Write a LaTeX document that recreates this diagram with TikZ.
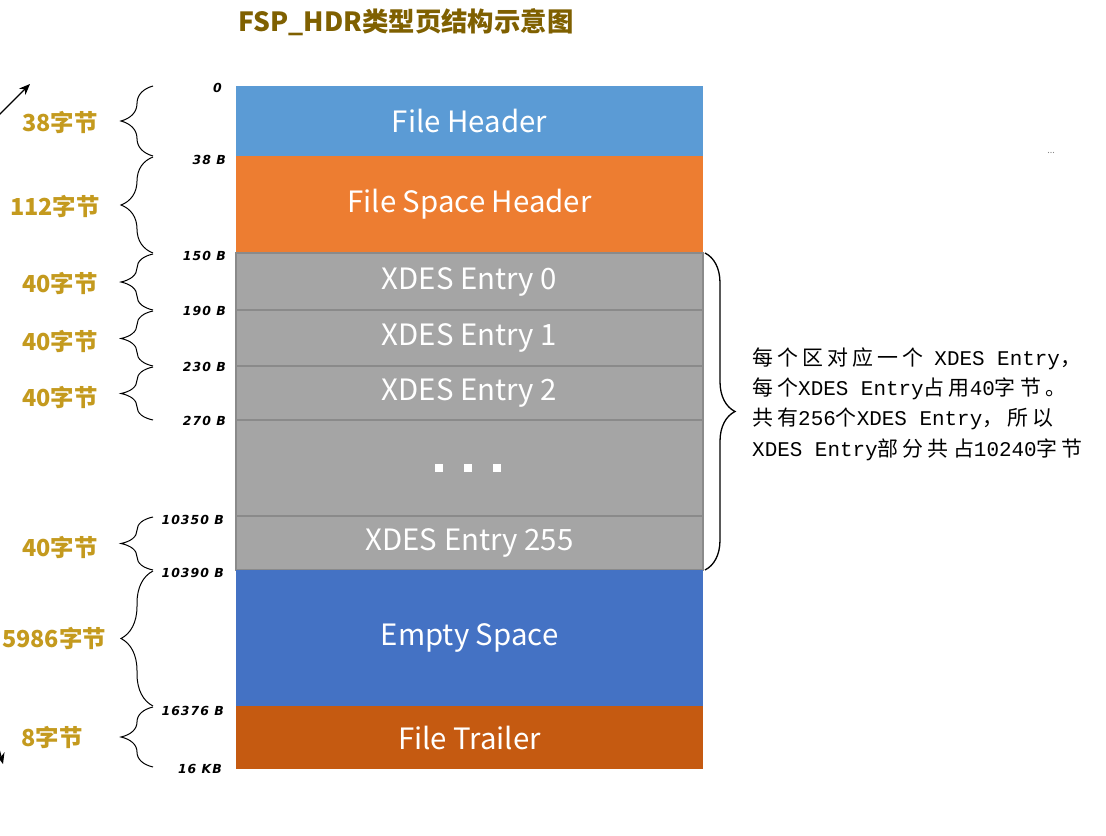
\documentclass[tikz,border=0pt]{standalone}
\usepackage{fontspec}
\setmainfont{Noto Sans CJK SC}
\newfontfamily\cjk{Noto Sans CJK SC}
\newfontfamily\hand[LetterSpace=20]{Noto Sans CJK SC}
\newfontfamily\monof{Liberation Mono}
\newfontfamily\offf[LetterSpace=8]{DejaVu Sans}
\usetikzlibrary{decorations.pathreplacing,arrows.meta}
\definecolor{fhc}{HTML}{5B9BD5}
\definecolor{fshc}{HTML}{ED7D31}
\definecolor{xgc}{HTML}{A5A5A5}
\definecolor{xline}{HTML}{8A8A8A}
\definecolor{esc}{HTML}{4472C4}
\definecolor{ftc}{HTML}{C55A11}
\definecolor{goldc}{HTML}{C49A1E}
\definecolor{tgoldc}{HTML}{7F6000}
\newcommand{\cn}[1]{{\hand #1}}
\newcommand{\mn}[1]{{\monof #1}}
\tikzset{
  seg/.style={minimum width=467bp, inner sep=0pt, text=white,
    font=\fontsize{29.5}{33}\selectfont},
  gseg/.style={seg, fill=xgc, draw=xline, line width=1.2bp},
  offlab/.style={anchor=east, inner sep=0pt, font=\offf\bfseries\itshape\fontsize{12.5}{14}\selectfont},
  bytelab/.style={text=goldc, inner sep=0pt, font=\bfseries\fontsize{23.5}{26}\selectfont},
  lbrace/.style={decorate, decoration={brace, amplitude=32bp, aspect=0.5}, line width=1bp},
  rbrace/.style={decorate, decoration={brace, amplitude=30bp, aspect=0.5}, line width=1.3bp},
  arr/.style={-{Stealth[length=11bp,width=9bp]}, line width=1.2bp},
  wdot/.style={fill=white, draw=none, minimum size=8bp, inner sep=0pt}
}
\begin{document}
\begin{tikzpicture}[x=1bp,y=-1bp]
\useasboundingbox (0,0) rectangle (1106,836);
\clip (0,0) rectangle (1106,836);
\fill[white] (0,0) rectangle (1106,836);
% title
\node[text=tgoldc, font=\bfseries\fontsize{26.5}{30}\selectfont] (title) at (406,22) {FSP\_HDR类型页结构示意图};
% segments
\node[seg, fill=fhc, minimum height=70bp] (fh) at (469.5,121) {File Header};
\node[seg, fill=fshc, minimum height=97bp] (fsh) at (469.5,204.5) {File Space Header};
\node[gseg, minimum height=57bp] (x0) at (469.5,281.5) {XDES Entry 0};
\node[gseg, minimum height=56bp] (x1) at (469.5,338) {XDES Entry 1};
\node[gseg, minimum height=54bp] (x2) at (469.5,393) {XDES Entry 2};
\node[gseg, minimum height=96bp] (xd) at (469.5,468) {};
\node[gseg, minimum height=54bp] (x255) at (469.5,543) {XDES Entry 255};
\node[seg, fill=esc, minimum height=136bp] (es) at (469.5,638) {Empty Space};
\node[seg, fill=ftc, minimum height=63bp] (ft) at (469.5,737.5) {File Trailer};
\node[wdot] (d1) at (439,468) {};
\node[wdot] (d2) at (468,468) {};
\node[wdot] (d3) at (497,468) {};
% offsets
\node[offlab] (o0) at (222,88) {0};
\node[offlab] (o1) at (226,160) {38 B};
\node[offlab] (o2) at (226,256) {150 B};
\node[offlab] (o3) at (226,311) {190 B};
\node[offlab] (o4) at (226,367) {230 B};
\node[offlab] (o5) at (226,421) {270 B};
\node[offlab] (o6) at (224,520) {10350 B};
\node[offlab] (o7) at (224,573) {10390 B};
\node[offlab] (o8) at (224,711) {16376 B};
\node[offlab] (o9) at (222,769) {16 KB};
% left braces
\draw[lbrace] (153,156) -- (153,86);
\draw[lbrace] (153,253) -- (153,157);
\draw[lbrace] (153,310) -- (153,254);
\draw[lbrace] (153,366) -- (153,311);
\draw[lbrace] (153,420) -- (153,367);
\draw[lbrace] (153,570) -- (153,517);
\draw[lbrace] (153,706) -- (153,571);
\draw[lbrace] (153,767) -- (153,707);
% byte labels
\node[bytelab] (b1) at (60,122) {38字节};
\node[bytelab] (b2) at (55,206) {112字节};
\node[bytelab] (b3) at (60,283) {40字节};
\node[bytelab] (b4) at (60,341) {40字节};
\node[bytelab] (b5) at (60,397) {40字节};
\node[bytelab] (b6) at (60,547) {40字节};
\node[bytelab] (b7) at (54,638) {5986字节};
\node[bytelab] (b8) at (52,737) {8字节};
% right brace and note
\draw[rbrace] (705,253) -- (705,570);
\node[anchor=west, align=left, inner sep=0pt,
  font=\fontsize{21}{30.5}\selectfont] (note) at (752,404)
  {\cn{每个区对应一个}\hspace{6bp} \mn{XDES Entry}\cn{，}\\
   \cn{每个}\mn{XDES Entry}\cn{占用}\mn{40}\cn{字节。}\\
   \cn{共有}\mn{256}\cn{个}\mn{XDES Entry}\cn{，所以}\\
   \mn{XDES Entry}\cn{部分共占}\mn{10240}\cn{字节}};
% stray marks
\node[text=gray, font=\fontsize{9}{10}\selectfont] (ell) at (1051,153) {...};
\coordinate (a1s) at (-2,116);
\coordinate (a1e) at (30,84);
\draw[arr] (a1s) -- (a1e);
\coordinate (a2s) at (-4,738);
\coordinate (a2e) at (3,764);
\draw[arr] (a2s) -- (a2e);
\end{tikzpicture}
\end{document}
